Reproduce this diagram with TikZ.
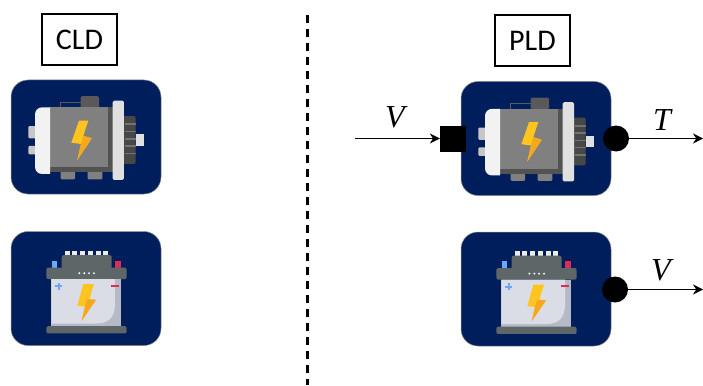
\documentclass[tikz,border=0pt]{standalone}
\usepackage{fontspec}
\setmainfont{Carlito}
\newfontfamily\varfont{Liberation Serif}
\usetikzlibrary{arrows.meta,positioning}
\definecolor{tilecol}{HTML}{011E5C}
\definecolor{boltcol}{HTML}{FFC41F}
\definecolor{boltdark}{HTML}{F5A81C}
\definecolor{batcase}{HTML}{DADDE5}
\definecolor{batshade}{HTML}{B5BAC6}
\definecolor{batlid}{HTML}{5F6668}
\definecolor{batplus}{HTML}{6CA8F5}
\definecolor{batminus}{HTML}{DB2F52}

\tikzset{
  motoricon/.pic={
    \begin{scope}[x=0.3333pt,y=-0.3333pt,shift={(-258,-201)}]
      \draw[color=black!65,line width=0.8pt] (180,112) -- (180,96) -- (242,96);
      \fill[black!65,rounded corners=1.5pt] (242,78) rectangle (297,114);
      \fill[black!22,rounded corners=1pt] (85,168) rectangle (108,205);
      \fill[black!22,rounded corners=1pt] (85,228) rectangle (108,253);
      \fill[black!50,rounded corners=1pt] (182,300) rectangle (225,328);
      \fill[black!50,rounded corners=1pt] (263,300) rectangle (307,328);
      \fill[black!72,rounded corners=2pt] (360,138) rectangle (407,282);
      \foreach \y in {160,182,204,226,248}
        \fill[black!55] (375,\y) rectangle (407,\y+5);
      \fill[black!12] (407,192) rectangle (433,228);
      \fill[black!50] (150,112) rectangle (338,307);
      \fill[black!68] (325,112) rectangle (338,307);
      \fill[black!68] (150,292) rectangle (338,307);
      \fill[black!5] (150,112) [rounded corners=7pt] -- (105,112) -- (105,312) [sharp corners] -- (150,312) -- cycle;
      \fill[black!12,rounded corners=1.5pt] (338,92) rectangle (372,330);
      \fill[boltcol] (237,152) -- (265,152) -- (250,197) -- (275,205) -- (232,270) -- (243,222) -- (214,218) -- cycle;
      \fill[boltdark] (243,222) -- (250,197) -- (275,205) -- (232,270) -- cycle;
    \end{scope}
  },
  batteryicon/.pic={
    \begin{scope}[x=0.3333pt,y=-0.3333pt,shift={(-258,-203)}]
      \foreach \x in {194,217,240,263,287,310}
        \fill[black!8] (\x,90) rectangle (\x+15,104);
      \fill[batlid,rounded corners=2pt] (185,103) rectangle (335,145);
      \fill[batplus] (155,120) rectangle (172,142);
      \fill[batminus] (346,120) rectangle (363,142);
      \fill[batlid,rounded corners=2pt] (139,140) rectangle (380,175);
      \foreach \x in {238,253,267,282}
        \fill[black!8] (\x,157) circle (3.5);
      \fill[batshade] (154,175) rectangle (363,316);
      \fill[batcase] (154,175) -- (345,175) -- (345,250) .. controls (345,290) and (325,308) .. (290,308) -- (154,308) -- cycle;
      \fill[batlid,rounded corners=2pt] (139,316) rectangle (380,338);
      \draw[color=batplus,line width=1.8pt] (165,196) -- (187,196) (176,185) -- (176,207);
      \draw[color=batminus,line width=1.8pt] (332,195) -- (356,195);
      \fill[boltcol] (250,190) -- (282,190) -- (268,235) -- (288,237) -- (245,300) -- (255,257) -- (232,255) -- cycle;
      \fill[boltdark] (255,257) -- (262,235) -- (288,237) -- (245,300) -- cycle;
    \end{scope}
  }
}

\begin{document}
\begin{tikzpicture}[>={Stealth[length=10pt,width=10pt]},x=1pt,y=-1pt,node distance=37pt,
    tile/.style={draw=black!45,line width=0.5pt,fill=tilecol,rounded corners=17pt,minimum width=150pt,minimum height=114pt,inner sep=0pt},
    title/.style={draw,line width=1.2pt,minimum width=75pt,minimum height=51pt,inner sep=0pt,font=\fontsize{30}{30}\selectfont},
    inport/.style={fill=black,minimum size=26pt,inner sep=0pt},
    outport/.style={circle,fill=black,minimum size=26pt,inner sep=0pt},
    varlabel/.style={font=\varfont\itshape\fontsize{32}{32}\selectfont}]
  \useasboundingbox (0,0) rectangle (703,385);
  \node[title] (cld) at (79.5,39.5) {CLD};
  \node[title] (pld) at (532.5,40.5) {PLD};
  \node[tile] (cldmotor) at (86,137) {};
  \node[tile] (cldbattery) [below=of cldmotor] {};
  \node[tile] (pldmotor) at (536,138.5) {};
  \node[tile] (pldbattery) [below=36pt of pldmotor] {};
  \pic at (cldmotor) {motoricon};
  \pic at (cldbattery) {batteryicon};
  \pic at (pldmotor) {motoricon};
  \pic at (pldbattery) {batteryicon};
  \coordinate (divtop) at (307,15);
  \coordinate (divbottom) at (307,385);
  \draw[line width=3pt,dash pattern=on 8pt off 6pt] (divtop) -- (divbottom);
  \node[inport] (motorin) at (453,138.5) {};
  \node[outport] (motorout) at (616,138.5) {};
  \node[outport] (batteryout) at (615,289.5) {};
  \coordinate (vstart) at (355,138.5);
  \coordinate (tend) at (703,138.5);
  \coordinate (vend) at (703,289.5);
  \draw[->,line width=0.8pt] (vstart) -- (motorin);
  \draw[->,line width=0.8pt] (motorout) -- (tend);
  \draw[->,line width=0.8pt] (batteryout) -- (vend);
  \node[varlabel] (vin) at (395,117) {V};
  \node[varlabel] (tout) at (662,120) {T};
  \node[varlabel] (vout) at (661,270) {V};
\end{tikzpicture}
\end{document}
